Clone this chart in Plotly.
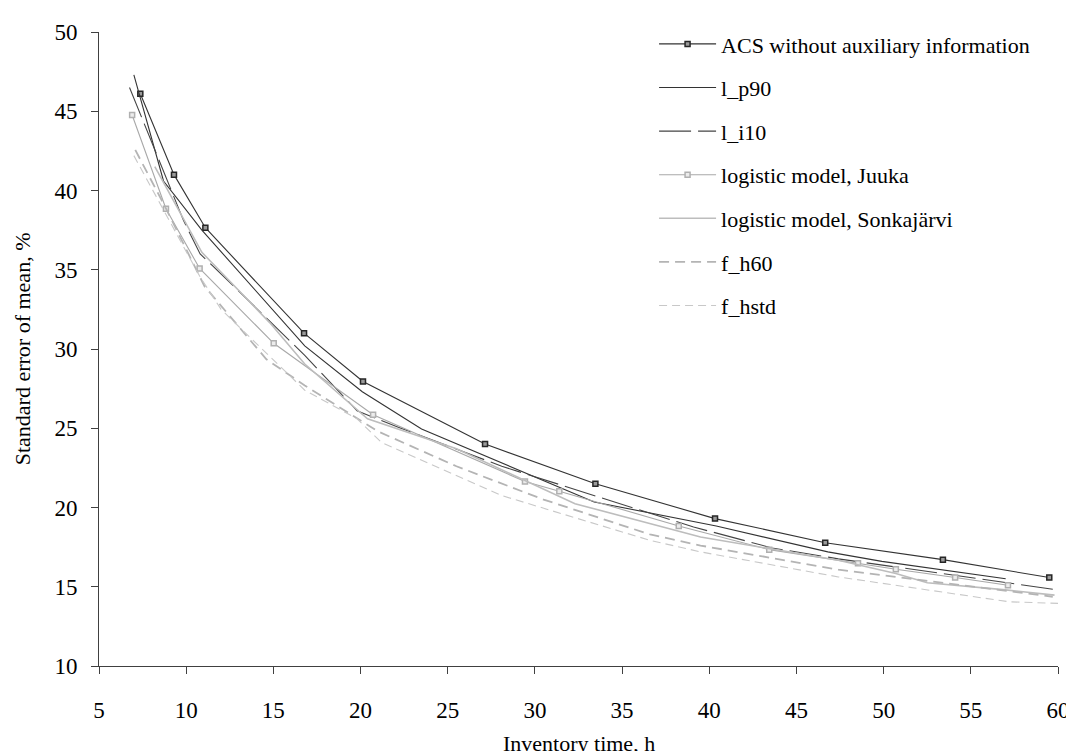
import plotly.graph_objects as go

# ---- data ----
acs_x = [7.37, 9.3, 11.1, 16.76, 20.14, 27.14, 33.47, 40.33, 46.65, 53.4, 59.5]
acs_y = [46.1, 41.0, 37.65, 31.0, 27.95, 24.0, 21.5, 19.3, 17.78, 16.71, 15.58]

p90_x = [7.0, 8.7, 10.9, 14.8, 16.8, 20.1, 23.5, 33.4, 40.4, 46.8, 49.9, 57.0]
p90_y = [47.3, 40.6, 37.5, 32.7, 30.2, 27.3, 24.95, 20.35, 18.83, 17.2, 16.6, 15.5]

i10_x = [6.75, 9.85, 10.8, 12.6, 16.8, 19.8, 22.2, 28.1, 39.1, 43.6, 47.4, 53.3, 60.0]
i10_y = [46.5, 38.1, 36.0, 34.1, 29.6, 26.1, 25.05, 22.6, 18.77, 17.45, 16.76, 15.85, 14.8]

juuka_x = [6.9, 8.84, 10.77, 15.02, 20.72, 29.43, 31.4, 38.25, 43.44, 48.53, 50.7, 54.1, 57.13]
juuka_y = [44.76, 38.85, 35.08, 30.36, 25.85, 21.64, 21.03, 18.83, 17.34, 16.48, 16.1, 15.58, 15.1]

sonk_x = [8.2, 10.9, 14.8, 16.8, 20.4, 25.5, 32.3, 39.5, 47.4, 50.7, 52.5, 57.0, 59.8]
sonk_y = [41.5, 36.1, 31.65, 29.05, 25.6, 23.7, 20.24, 18.14, 16.67, 15.83, 15.25, 14.8, 14.47]

h60_x = [7.08, 8.78, 11.05, 14.6, 16.8, 18.7, 21.0, 25.5, 30.5, 36.6, 39.5, 47.4, 59.7]
h60_y = [42.56, 39.0, 33.96, 29.35, 27.7, 26.4, 24.8, 22.6, 20.5, 18.3, 17.6, 16.08, 14.37]

hstd_x = [7.0, 8.8, 10.77, 12.0, 16.8, 19.8, 21.2, 28.1, 36.6, 39.5, 47.4, 57.2, 60.0]
hstd_y = [42.2, 38.6, 34.6, 32.5, 27.4, 25.6, 24.1, 20.75, 17.93, 17.2, 15.62, 14.05, 13.95]

names = ["ACS without auxiliary information", "l_p90", "l_i10",
         "logistic model, Juuka", "logistic model, Sonkajärvi", "f_h60", "f_hstd"]

x_ticks = [5, 10, 15, 20, 25, 30, 35, 40, 45, 50, 55, 60]
y_ticks = [10, 15, 20, 25, 30, 35, 40, 45, 50]

FONT = "Liberation Serif"

fig = go.Figure()

fig.add_trace(go.Scatter(
    x=acs_x, y=acs_y, name=names[0], mode="lines+markers",
    line=dict(color="#333333", width=1.1),
    marker=dict(symbol="square", size=5, color="#9a9a9a",
                line=dict(color="#262626", width=1.5)),
    legendgroup="a"))
fig.add_trace(go.Scatter(
    x=p90_x, y=p90_y, name=names[1], mode="lines",
    line=dict(color="#333333", width=1.1), legendgroup="b"))
fig.add_trace(go.Scatter(
    x=i10_x, y=i10_y, name=names[2], mode="lines",
    line=dict(color="#444444", width=1.1, dash="32px,7px"), legendgroup="c"))
fig.add_trace(go.Scatter(
    x=juuka_x, y=juuka_y, name=names[3], mode="lines+markers",
    line=dict(color="#a8a8a8", width=1.1),
    marker=dict(symbol="square", size=5, color="#ececec",
                line=dict(color="#b0b0b0", width=1.5)),
    legendgroup="d"))
fig.add_trace(go.Scatter(
    x=sonk_x, y=sonk_y, name=names[4], mode="lines",
    line=dict(color="#bdbdbd", width=1.6), legendgroup="e"))
fig.add_trace(go.Scatter(
    x=h60_x, y=h60_y, name=names[5], mode="lines",
    line=dict(color="#b4b4b4", width=1.8, dash="10px,6px"), legendgroup="f"))
fig.add_trace(go.Scatter(
    x=hstd_x, y=hstd_y, name=names[6], mode="lines",
    line=dict(color="#c8c8c8", width=1.1, dash="8px,5px"), legendgroup="g"))

axis_common = dict(
    showgrid=False, zeroline=False, showline=True, linecolor="#404040",
    linewidth=1, ticks="outside", ticklen=7, tickcolor="#404040",
    tickfont=dict(family=FONT, size=23, color="black"),
)

fig.update_layout(
    width=1074, height=751,
    paper_bgcolor="white", plot_bgcolor="white",
    margin=dict(l=91, r=12, t=22, b=93),
    font=dict(family=FONT, size=22, color="black"),
    showlegend=True,
    legend=dict(
        x=0.5788, y=1.014, xanchor="left", yanchor="top",
        bgcolor="rgba(0,0,0,0)", traceorder="grouped", tracegroupgap=12,
        font=dict(family=FONT, size=22, color="black"),
        itemwidth=57,
    ),
    xaxis=dict(range=[5, 60], tickvals=x_ticks, ticklabelstandoff=16, **axis_common),
    yaxis=dict(range=[10, 50], tickvals=y_ticks, ticklabelstandoff=9, **axis_common),
    annotations=[
        dict(text="Inventory time, h", xref="paper", yref="paper",
             x=0.5, y=-0.122, xanchor="center", yanchor="middle",
             showarrow=False, font=dict(family=FONT, size=22, color="black")),
        dict(text="Standard error of mean, %", xref="paper", yref="paper",
             x=-0.08, y=0.5, xanchor="center", yanchor="middle", textangle=-90,
             showarrow=False, font=dict(family=FONT, size=22, color="black")),
    ],
)

fig.write_html("out.html")
